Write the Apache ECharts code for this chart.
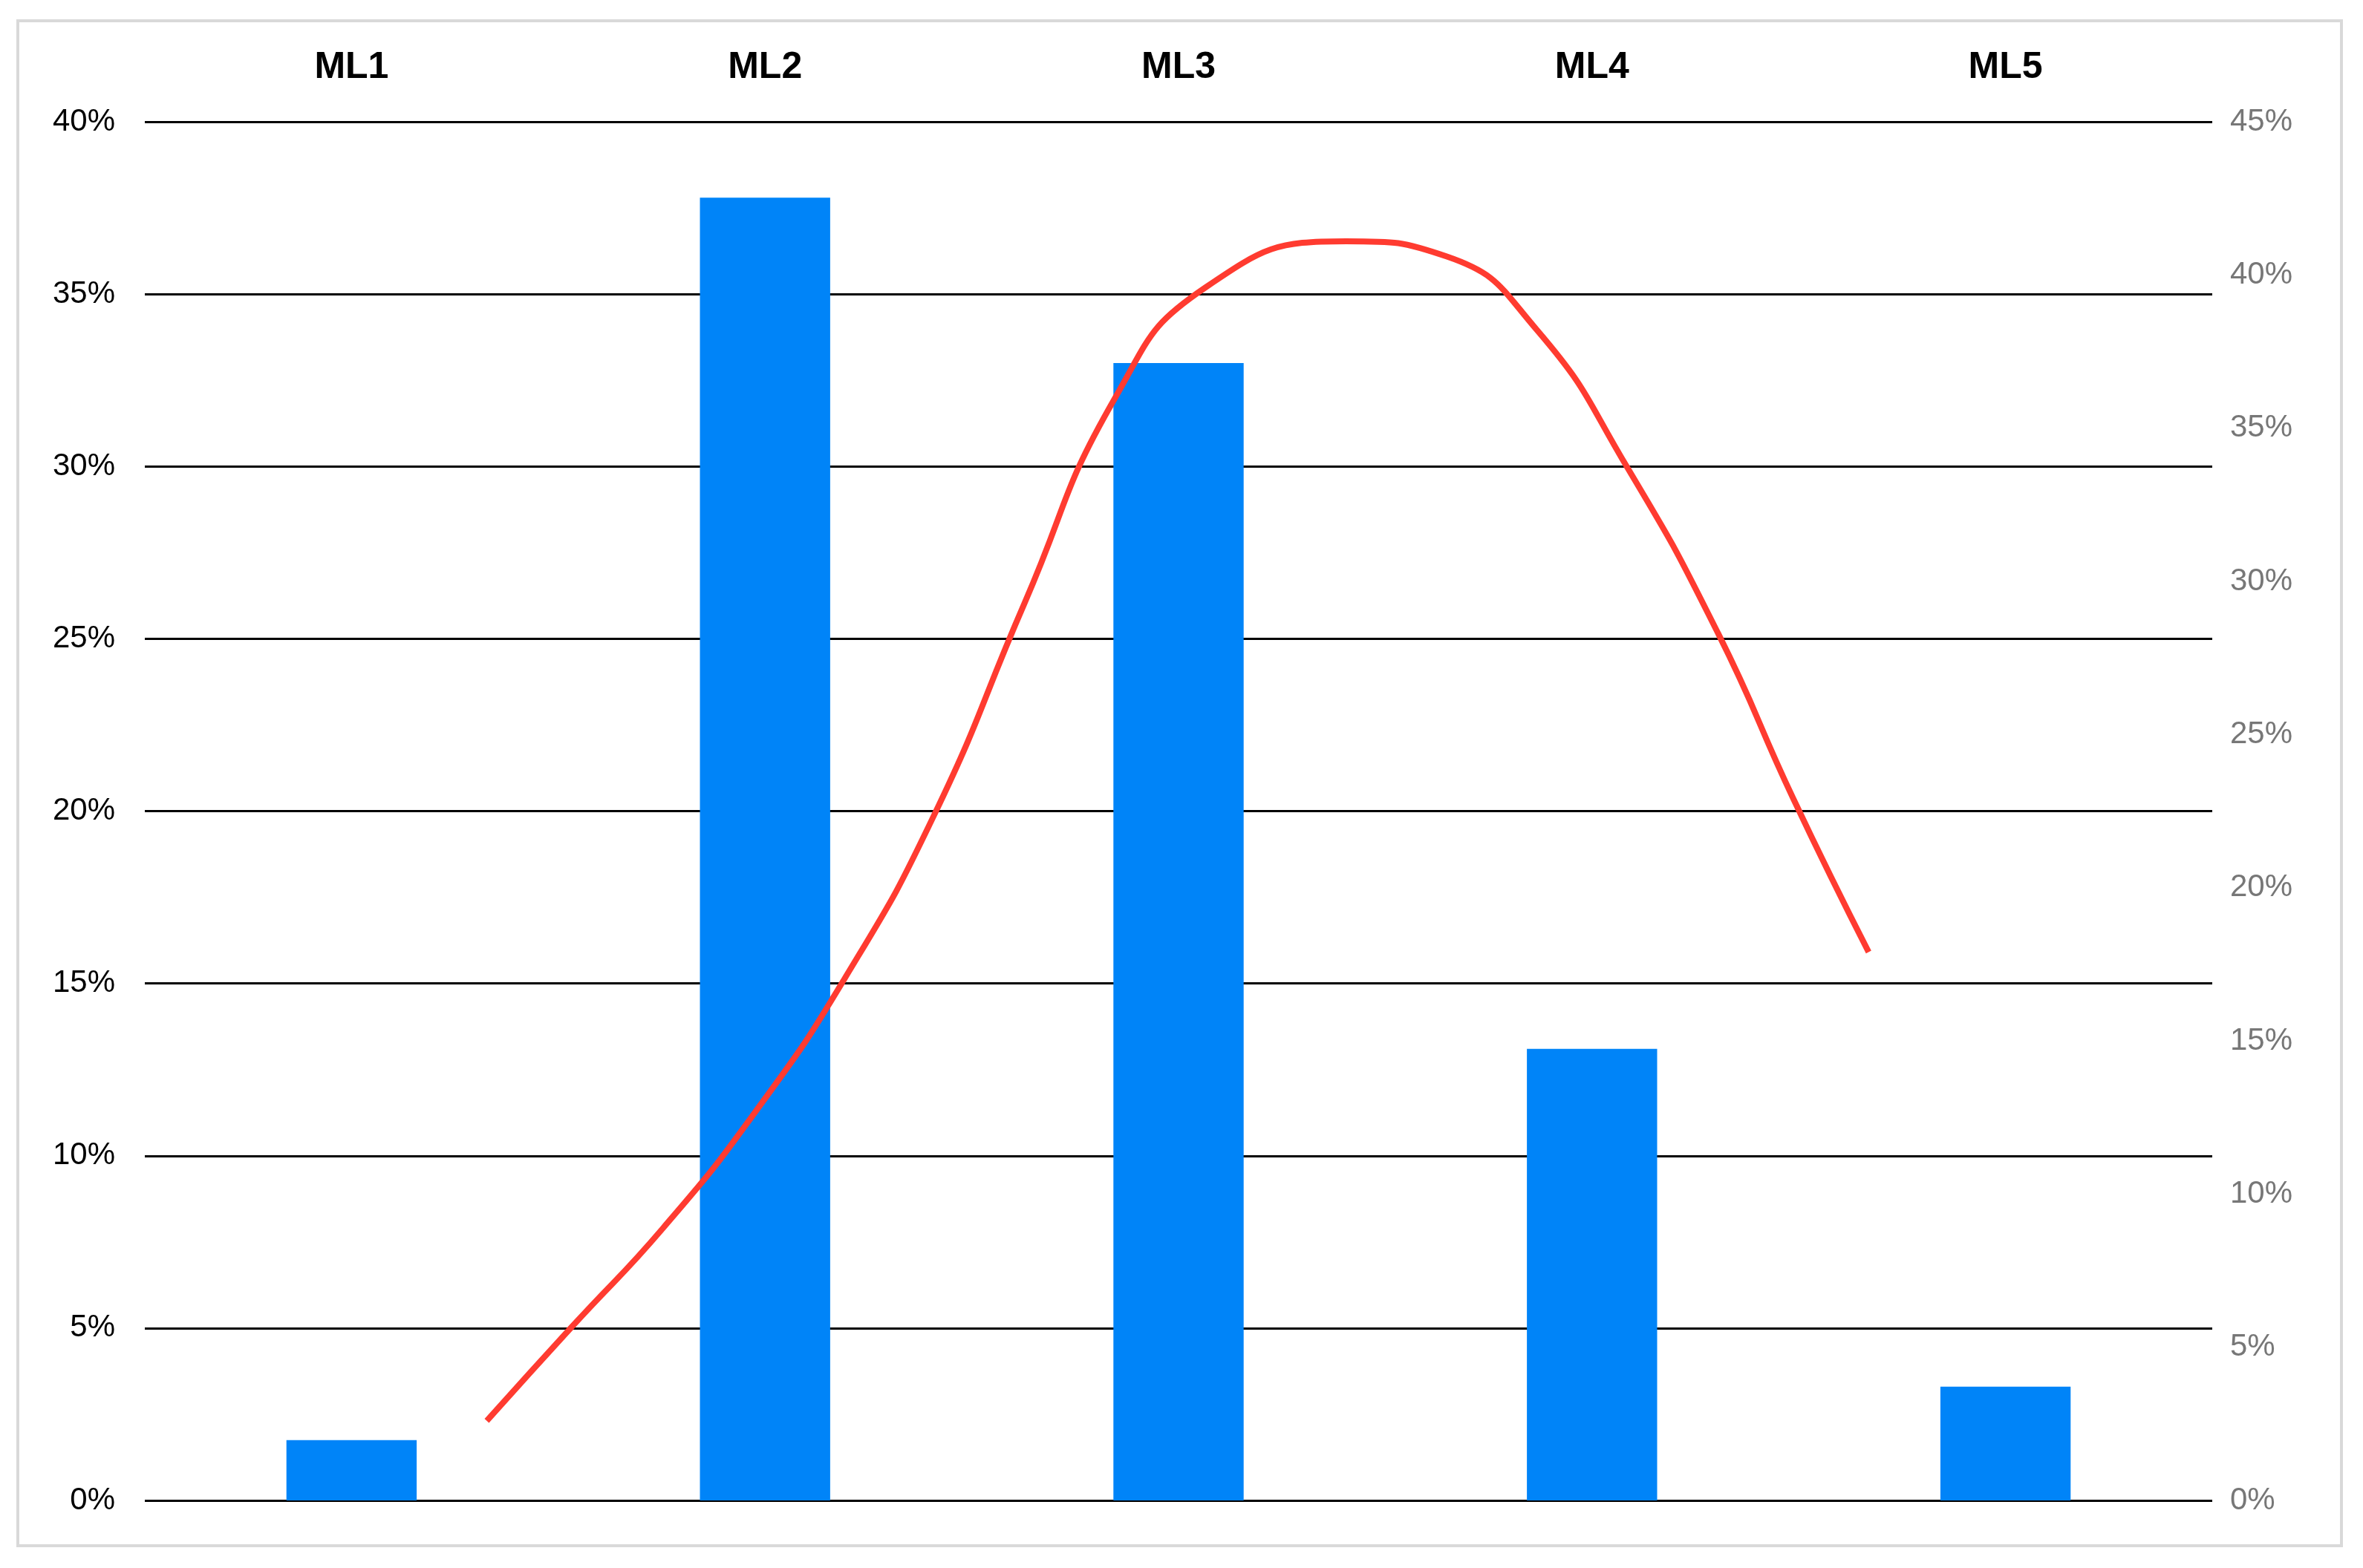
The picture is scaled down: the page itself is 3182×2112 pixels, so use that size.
<!DOCTYPE html>
<html><head><meta charset="utf-8">
<script src="https://cdn.jsdelivr.net/npm/echarts@6/dist/echarts.min.js"></script>
<style>html,body{margin:0;padding:0;background:#fff}#c{width:3182px;height:2112px}</style>
</head><body><div id="c"></div>
<script>
const categories = ['ML1','ML2','ML3','ML4','ML5'];
const barValues = [1.75, 37.8, 33.0, 13.1, 3.3];
const curveX = [0.827,1.035,1.254,1.472,1.691,1.910,2.128,2.347,2.566,2.905,3.149,3.367,3.586,3.805,3.987,4.169];
const curveY = [2.6,5.7,8.9,12.6,17.0,22.4,29.3,36.0,39.6,41.1,40.6,38.2,33.7,28.3,22.9,17.9];

const chart = echarts.init(document.getElementById('c'));
chart.setOption({
  animation:false,
  backgroundColor:'#fff',
  graphic:[{type:'rect',shape:{x:24,y:28,width:3129,height:2054},style:{fill:'none',stroke:'#d9d9d9',lineWidth:4},z:-1}],
  grid:{left:195,right:203,top:164,bottom:91},
  xAxis:[
    {type:'category',data:categories,position:'top',axisLine:{show:false},axisTick:{show:false},
     axisLabel:{fontFamily:'Liberation Sans',fontWeight:'bold',fontSize:50,color:'#000',margin:48}},
    {type:'value',min:0,max:5,show:false}
  ],
  yAxis:[
    {type:'value',min:0,max:40,interval:5,axisLine:{show:false},axisTick:{show:false},
     axisLabel:{formatter:'{value}%',fontFamily:'Liberation Sans',fontSize:42,color:'#000',margin:40},
     splitLine:{lineStyle:{color:'#000',width:3}}},
    {type:'value',min:0,max:45,interval:5,axisLine:{show:false},axisTick:{show:false},
     axisLabel:{formatter:'{value}%',fontFamily:'Liberation Sans',fontSize:42,color:'#777',margin:24},
     splitLine:{show:false}}
  ],
  series:[
    {type:'bar',data:barValues,xAxisIndex:0,yAxisIndex:0,barWidth:'31.5%',itemStyle:{color:'#0084f8'}},
    {type:'line',data:curveX.map((x,i)=>[x,curveY[i]]),xAxisIndex:1,yAxisIndex:1,smooth:true,showSymbol:false,
     lineStyle:{color:'#ff3b30',width:8}}
  ]
});
</script></body></html>
